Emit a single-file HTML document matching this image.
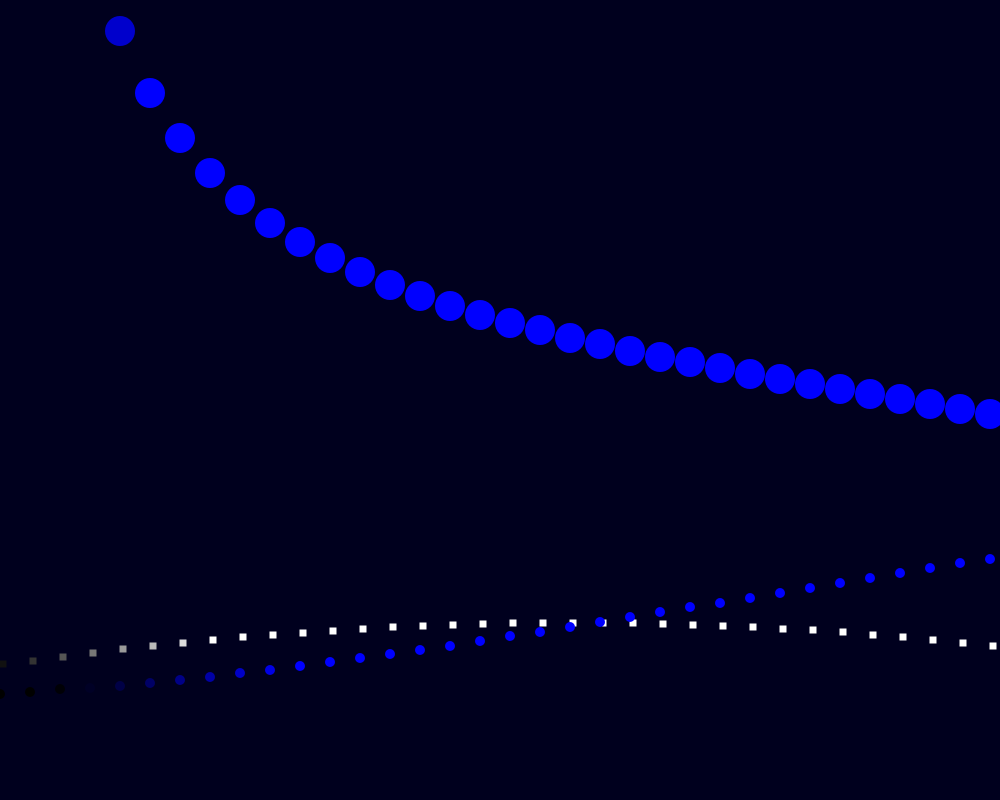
<!DOCTYPE html>
<html><head><meta charset="utf-8"><style>
html,body{margin:0;padding:0;background:#00001e;}
svg{display:block;}
</style></head><body>
<svg id="chart" width="1000" height="800" viewBox="0 0 1000 800">
<rect x="0" y="0" width="1000" height="800" fill="#00001e"/>
<g id="marks"></g>
</svg>
<script>
const indices = [0,1,2,3,4,5,6,7,8,9,10,11,12,13,14,15,16,17,18,19,20,21,22,23,24,25,26,27,28,29,30,31,32,33];
const bigSeries = [null,null,null,null,769,707,662,627,600,577,558,542,528,515,504,494,485,477,470,462,456,449,443,438,432,426,421,416,411,406,401,396,391,386];
const smallSeries = [106,108,111,112,114,117,120,123,127,130,134,138,142,146,150,154,159,164,168,173,178,183,188,193,197,202,207,212,217,222,227,232,237,241];
const squareSeries = [136,139,143,147,151,154,157,160,163,165,167,169,171,173,174,175,176,177,177,177,177,177,176,175,174,173,171,170,168,165,163,160,157,154];
const xScale = i => i * 30;
const yScale = v => 800 - v;
const NS = 'http://www.w3.org/2000/svg';
const g = document.getElementById('marks');
function mix(t, r, gg, b){ t=Math.max(0,Math.min(1,t)); return `rgb(${Math.round(r*t)},${Math.round(gg*t)},${Math.round(b*t)})`; }
squareSeries.forEach((v,k)=>{
  const i = indices[k];
  const el = document.createElementNS(NS,'rect');
  el.setAttribute('x', xScale(i)+3-3.5); el.setAttribute('y', yScale(v)-3.5);
  el.setAttribute('width', 7); el.setAttribute('height', 7);
  el.setAttribute('fill', mix((i+0.5)/7.5,255,255,255));
  
  
  g.appendChild(el);
});
smallSeries.forEach((v,k)=>{
  const i = indices[k];
  const el = document.createElementNS(NS,'circle');
  el.setAttribute('cx', xScale(i)); el.setAttribute('cy', yScale(v)); el.setAttribute('r', 5);
  el.setAttribute('fill', mix((i-1.8)/8,0,0,255));
  
  
  g.appendChild(el);
});
bigSeries.forEach((v,k)=>{
  if(v===null) return;
  const i = indices[k];
  const el = document.createElementNS(NS,'circle');
  el.setAttribute('cx', xScale(i)); el.setAttribute('cy', yScale(v)); el.setAttribute('r', 15);
  el.setAttribute('fill', i===4 ? '#0000cc' : '#0000ff');
  
  
  g.appendChild(el);
});
</script>
</body></html>
